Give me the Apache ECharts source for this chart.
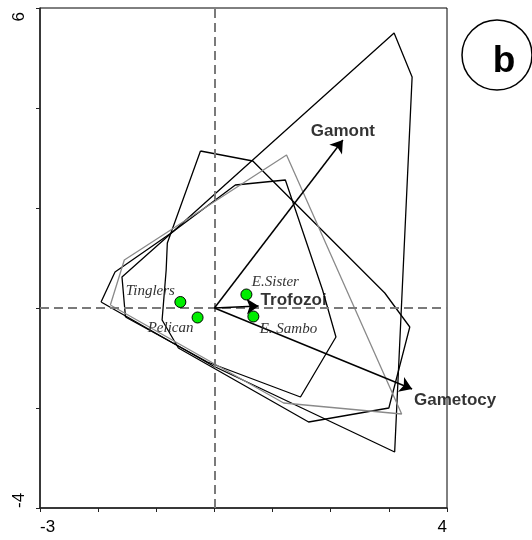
<!DOCTYPE html>
<html><head><meta charset="utf-8">
<script src="https://cdn.jsdelivr.net/npm/echarts@6/dist/echarts.min.js"></script>
<style>html,body{margin:0;padding:0;background:#fff}#c{width:532px;height:540px}</style>
</head><body><div id="c"></div>
<script>
// hull polygons (site envelopes)
const hullA = [[-1.95,0.12],[-1.71,0.72],[-0.72,1.52],[3.09,5.5],[3.40,4.62],[3.10,-2.88],[-0.02,-1.16]];
const hullGray = [[-1.79,0.06],[-1.55,0.96],[1.24,3.06],[3.22,-2.12],[1.19,-1.9]];
const hullB = [[-0.24,3.14],[0.66,2.94],[2.93,0.3],[3.36,-0.38],[3.0,-2.0],[1.62,-2.28],[-0.62,-0.8],[-0.9,-0.24],[-0.83,0.76],[-0.81,1.3]];
const hullC = [[-1.53,-0.18],[-1.59,0.62],[-0.72,1.52],[0.36,2.46],[1.22,2.56],[1.86,0.36],[2.09,-0.58],[1.48,-1.78],[-0.12,-1.08]];
// sites
const siteNames = ['Tinglers','Pelican','E.Sister','E. Sambo'];
const siteX = [-0.586,-0.29,0.55,0.67];
const siteY = [0.12,-0.19,0.27,-0.17];
// environmental arrows
const arrowNames = ['Gamont','Trofozoi','Gametocy'];
const arrowX = [2.21,0.76,3.40];
const arrowY = [3.36,0.04,-1.62];
// axes
const xLabelValues = [-3,4];
const yLabelValues = [-4,6];

const siteOffsets = [[-30,-11],[-27,11],[29,-12],[35,13]];
const arrowOffsets = [[0,-9],[35,-6],[43,11]];

const close = p => p.concat([p[0]]);
const hullSeries = (d, color) => ({
  type:'line', data: close(d), symbol:'none', silent:true,
  lineStyle:{color:color, width:1.3}, z:3
});

const chart = echarts.init(document.getElementById('c'), null, {renderer:'canvas'});
chart.setOption({
  animation:false,
  backgroundColor:'#fff',
  grid:{left:40, right:85, top:8, bottom:32, show:true, borderColor:'#000', borderWidth:1},
  xAxis:{type:'value', min:-3, max:4, interval:1,
    axisLine:{onZero:false, lineStyle:{color:'#222', width:1.5}},
    axisTick:{length:4, lineStyle:{color:'#222'}},
    splitLine:{show:false},
    axisLabel:{margin:11, fontSize:17, color:'#000', fontFamily:'Liberation Sans, Arial',
      alignMinLabel:'left', alignMaxLabel:'right', showMinLabel:true, showMaxLabel:true,
      formatter: v => xLabelValues.includes(v) ? String(v) : ''}},
  yAxis:{type:'value', min:-4, max:6, interval:2,
    axisLine:{onZero:false, lineStyle:{color:'#222', width:1.5}},
    axisTick:{length:4, lineStyle:{color:'#222'}},
    splitLine:{show:false},
    axisLabel:{margin:12, fontSize:17, color:'#000', rotate:90, fontFamily:'Liberation Sans, Arial',
      alignMinLabel:'left', alignMaxLabel:'right', showMinLabel:true, showMaxLabel:true,
      rich:{top:{fontSize:17, color:'#000', fontFamily:'Liberation Sans, Arial', padding:[0,4,0,0]}},
      formatter: v => v === yLabelValues[1] ? '{top|' + v + '}' : (yLabelValues.includes(v) ? String(v) : '')}},
  graphic:[
    {type:'circle', shape:{cx:497, cy:55, r:35}, style:{fill:'none', stroke:'#000', lineWidth:1.5}},
    {type:'text', x:504, y:62, style:{text:'b', font:'bold 37px Liberation Sans, Arial', fill:'#000', align:'center', verticalAlign:'middle'}}
  ],
  series:[
    {type:'line', data:[], markLine:{silent:true, symbol:'none', label:{show:false},
      lineStyle:{color:'#7a7a7a', width:2, type:[9,5]},
      data:[{xAxis:0},{yAxis:0}]}, z:1},
    hullSeries(hullA,'#000'),
    hullSeries(hullB,'#000'),
    hullSeries(hullC,'#000'),
    hullSeries(hullGray,'#8a8a8a'),
    {type:'lines', coordinateSystem:'cartesian2d', silent:true, z:5,
      symbol:['none','arrow'], symbolSize:12,
      lineStyle:{color:'#000', width:1.5, opacity:1, curveness:0},
      data: arrowX.map((x,i)=>({coords:[[0,0],[x,arrowY[i]]]}))},
    {type:'scatter', symbolSize:0, silent:true, z:6,
      data: arrowX.map((x,i)=>({value:[x,arrowY[i]], name:arrowNames[i],
        label:{show:true, position:'inside', offset:arrowOffsets[i], formatter:arrowNames[i],
          fontSize:17, fontWeight:'bold', color:'#000', fontFamily:'Liberation Sans, Arial'}}))},
    {type:'scatter', symbolSize:11, silent:true, z:7,
      itemStyle:{color:'#00ee00', borderColor:'#000', borderWidth:1, opacity:1},
      data: siteX.map((x,i)=>({value:[x,siteY[i]], name:siteNames[i],
        label:{show:true, position:'inside', offset:siteOffsets[i], formatter:siteNames[i],
          fontSize:15, fontStyle:'italic', color:'#333', fontFamily:'Liberation Serif, Times New Roman'}}))}
  ]
});
</script></body></html>
